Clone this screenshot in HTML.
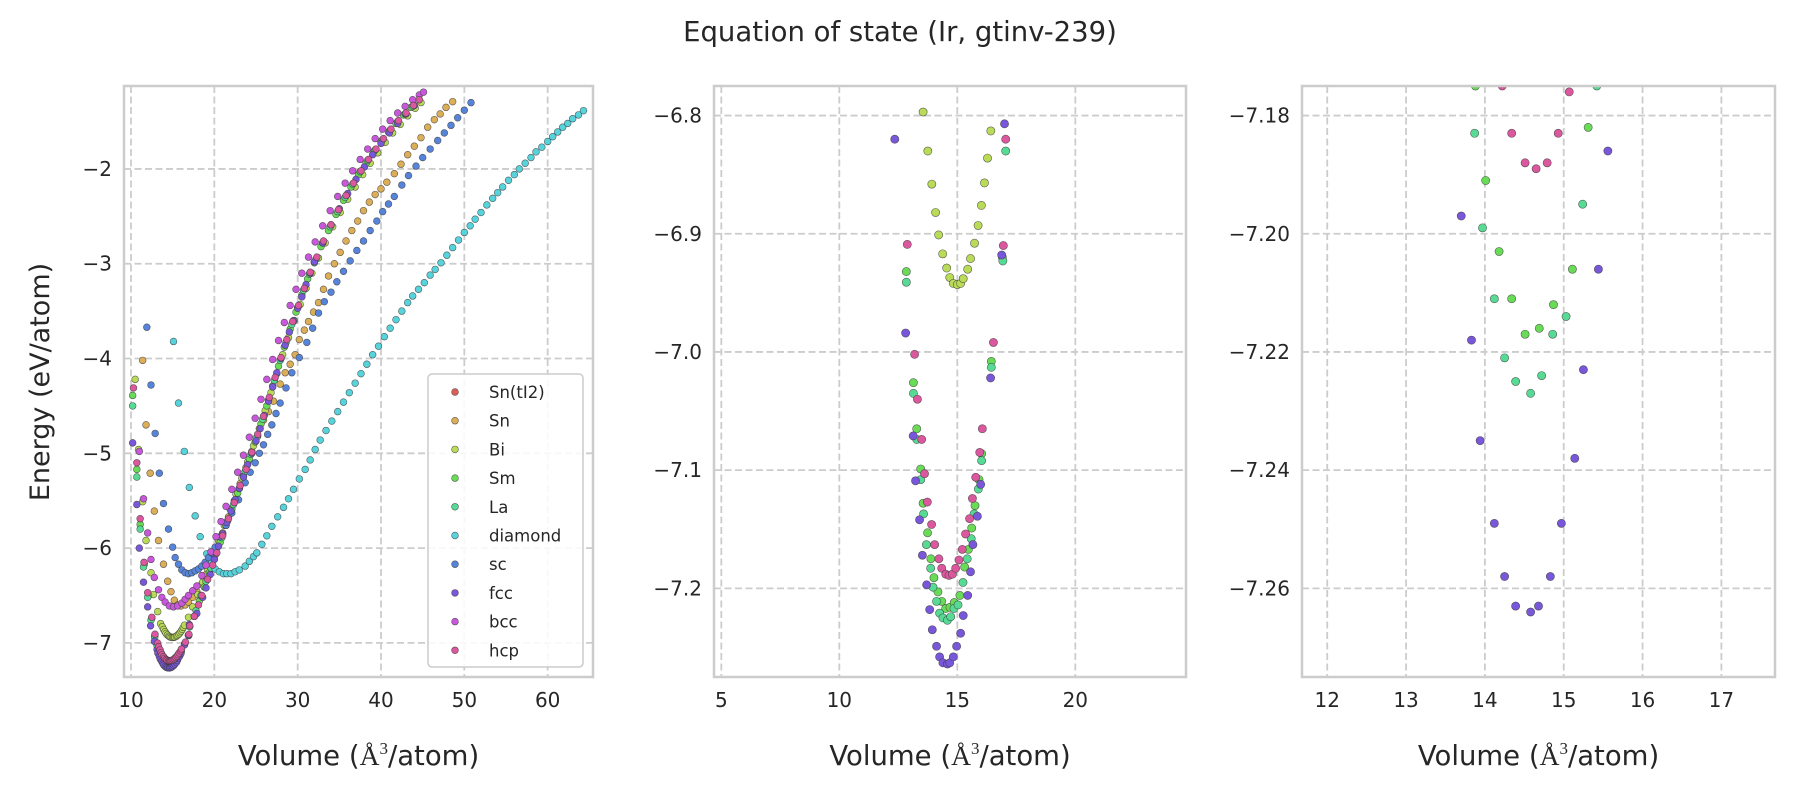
<!DOCTYPE html>
<html><head><meta charset="utf-8"><title>Equation of state (Ir, gtinv-239)</title>
<style>
html,body{margin:0;padding:0;background:#fff;}
svg{display:block;font-family:"DejaVu Sans","Liberation Sans",sans-serif;}
</style></head>
<body>
<svg id="chart" width="1800" height="800" viewBox="0 0 1800 800" xmlns="http://www.w3.org/2000/svg">
<rect width="1800" height="800" fill="#fff"/>
<text x="900" y="41" font-size="27.5" text-anchor="middle" fill="#262626">Equation of state (Ir, gtinv-239)</text>
<text transform="translate(49,382) rotate(-90)" font-size="27" text-anchor="middle" fill="#262626">Energy (eV/atom)</text>
<g id="panels"></g>
</svg>
<script>
// ---- data: series names / colours ----
const seriesNames = ["Sn(tI2)","Sn","Bi","Sm","La","diamond","sc","fcc","bcc","hcp"];
const seriesColors = ["#db5f57","#dbae57","#b9db57","#69db57","#57db94","#57d3db","#5784db","#7957db","#c957db","#db579e"];

// ---- data: [volume, energy] points per structure ----
const snTI2Pts = [];
const snPts = [[11.4,-4.02],[11.8,-4.70],[12.3,-5.21],[12.8,-5.61],[13.3,-5.92],[13.9,-6.17],[14.4,-6.35],[14.8,-6.46],[15.2,-6.55],[15.6,-6.6],[16.0,-6.61],[16.5,-6.6],[16.9,-6.57],[17.4,-6.52],[17.9,-6.46],[18.5,-6.38],[19.1,-6.27],[19.7,-6.14],[20.3,-6.0],[21,-5.84],[21.7,-5.67],[22.4,-5.5],[23.1,-5.32],[23.8,-5.15],[24.5,-4.98],[25.2,-4.82],[25.9,-4.65],[26.5,-4.56],[27.1,-4.45],[27.9,-4.27],[28.5,-4.15],[29.1,-4.06],[29.7,-3.96],[30.2,-3.8],[30.8,-3.7],[31.3,-3.61],[31.9,-3.51],[32.5,-3.41],[33.1,-3.27],[33.7,-3.13],[34.4,-3.0],[35.1,-2.88],[35.8,-2.76],[36.5,-2.65],[37.2,-2.55],[37.9,-2.44],[38.6,-2.35],[39.3,-2.27],[40.0,-2.21],[40.7,-2.14],[41.6,-2.05],[42.4,-1.95],[43.2,-1.85],[44,-1.76],[44.8,-1.67],[45.6,-1.56],[46.4,-1.48],[47.1,-1.42],[47.8,-1.35],[48.6,-1.29]];
const biPts = [[10.5,-4.22],[10.9,-4.96],[11.4,-5.51],[11.8,-5.92],[12.4,-6.26],[12.7,-6.49],[13.2,-6.67],[13.55,-6.797],[13.75,-6.830],[13.92,-6.858],[14.08,-6.882],[14.21,-6.901],[14.38,-6.917],[14.55,-6.929],[14.68,-6.937],[14.83,-6.942],[15.0,-6.943],[15.14,-6.942],[15.25,-6.938],[15.44,-6.930],[15.56,-6.921],[15.73,-6.908],[15.88,-6.893],[16.02,-6.876],[16.15,-6.857],[16.28,-6.836],[16.42,-6.813],[16.9,-6.73],[17.4,-6.62],[18,-6.49],[18.6,-6.36],[19.2,-6.22],[19.8,-6.08],[20.5,-5.92],[21.2,-5.76],[21.9,-5.59],[22.6,-5.43],[23.3,-5.26],[24,-5.09],[24.7,-4.92],[25.4,-4.74],[26.1,-4.55],[26.8,-4.36],[27.5,-4.16],[28.2,-3.96],[28.9,-3.78],[29.6,-3.6],[30.3,-3.43],[31,-3.26],[31.7,-3.1],[32.5,-2.94],[33.3,-2.78],[34.2,-2.61],[35.1,-2.46],[36,-2.32],[36.9,-2.19],[37.8,-2.06],[38.7,-1.94],[39.6,-1.83],[40.5,-1.72],[41.4,-1.62],[42.3,-1.53],[43.2,-1.44],[44.1,-1.36],[44.8,-1.3]];
const smPts = [[10.2,-4.39],[10.7,-5.17],[11.1,-5.75],[11.6,-6.17],[12.1,-6.5],[12.5,-6.74],[12.84,-6.932],[13.14,-7.026],[13.28,-7.065],[13.45,-7.099],[13.55,-7.128],[13.74,-7.153],[13.88,-7.175],[14.01,-7.191],[14.18,-7.203],[14.34,-7.211],[14.51,-7.217],[14.69,-7.216],[14.87,-7.212],[15.11,-7.206],[15.31,-7.182],[15.47,-7.167],[15.61,-7.149],[15.75,-7.130],[15.92,-7.108],[16.03,-7.086],[16.44,-7.008],[16.91,-6.920],[17.6,-6.72],[18.2,-6.56],[18.8,-6.41],[19.4,-6.26],[20,-6.11],[20.7,-5.94],[21.4,-5.76],[22.1,-5.59],[22.8,-5.42],[23.5,-5.24],[24.2,-5.06],[24.9,-4.88],[25.6,-4.69],[26.3,-4.5],[27,-4.29],[27.7,-4.08],[28.4,-3.88],[29.1,-3.69],[29.8,-3.51],[30.5,-3.33],[31.2,-3.16],[32,-2.99],[32.8,-2.82],[33.7,-2.65],[34.6,-2.48],[35.5,-2.33],[36.4,-2.19],[37.3,-2.06],[38.2,-1.94],[39.1,-1.82],[40,-1.71],[40.9,-1.61],[41.8,-1.52],[42.7,-1.43],[43.6,-1.35]];
const laPts = [[10.2,-4.5],[10.7,-5.25],[11.1,-5.8],[11.5,-6.2],[12.0,-6.52],[12.4,-6.76],[12.84,-6.941],[13.14,-7.035],[13.28,-7.074],[13.45,-7.108],[13.57,-7.137],[13.69,-7.163],[13.87,-7.183],[13.97,-7.199],[14.12,-7.211],[14.25,-7.221],[14.39,-7.225],[14.58,-7.227],[14.72,-7.224],[14.86,-7.217],[15.03,-7.214],[15.24,-7.195],[15.42,-7.175],[15.59,-7.158],[15.71,-7.137],[15.89,-7.116],[16.03,-7.092],[16.44,-7.013],[16.93,-6.923],[17.05,-6.83],[17.8,-6.66],[18.4,-6.5],[19,-6.35],[19.6,-6.21],[20.2,-6.06],[20.9,-5.89],[21.6,-5.71],[22.3,-5.54],[23,-5.37],[23.7,-5.19],[24.4,-5.01],[25.1,-4.83],[25.8,-4.64],[26.5,-4.44],[27.2,-4.23],[27.9,-4.02],[28.6,-3.83],[29.3,-3.64],[30,-3.46],[30.7,-3.28],[31.4,-3.11],[32.2,-2.95],[33,-2.78],[33.9,-2.61],[34.8,-2.45],[35.7,-2.3],[36.6,-2.16],[37.5,-2.03],[38.4,-1.91],[39.3,-1.8],[40.2,-1.69],[41.1,-1.59],[42,-1.5],[42.9,-1.42],[43.8,-1.34]];
const diamondPts = [[15.1,-3.82],[15.7,-4.47],[16.4,-4.98],[17.0,-5.36],[17.7,-5.66],[18.3,-5.88],[19.1,-6.06],[19.6,-6.15],[20.1,-6.22],[20.6,-6.25],[21.1,-6.27],[21.5,-6.27],[22.0,-6.27],[22.5,-6.25],[23.0,-6.23],[23.7,-6.19],[24.2,-6.14],[24.7,-6.09],[25.1,-6.05],[25.7,-5.96],[26.3,-5.87],[26.9,-5.77],[27.6,-5.67],[28.3,-5.57],[28.9,-5.48],[29.5,-5.38],[30.2,-5.27],[30.9,-5.17],[31.5,-5.07],[32.1,-4.96],[32.7,-4.86],[33.4,-4.76],[34.1,-4.66],[34.8,-4.56],[35.5,-4.46],[36.2,-4.36],[36.9,-4.26],[37.6,-4.16],[38.3,-4.06],[39.0,-3.96],[39.7,-3.87],[40.4,-3.77],[41.1,-3.68],[41.8,-3.59],[42.5,-3.5],[43.2,-3.41],[43.8,-3.34],[44.5,-3.27],[45.2,-3.2],[45.9,-3.12],[46.5,-3.06],[47.2,-2.99],[47.9,-2.91],[48.6,-2.83],[49.3,-2.75],[50,-2.67],[50.7,-2.6],[51.3,-2.53],[52,-2.46],[52.7,-2.38],[53.4,-2.31],[54,-2.25],[54.6,-2.19],[55.3,-2.12],[56,-2.06],[56.6,-2.0],[57.3,-1.94],[58,-1.88],[58.6,-1.82],[59.3,-1.77],[60,-1.71],[60.6,-1.66],[61.2,-1.61],[61.8,-1.56],[62.4,-1.52],[63,-1.47],[63.7,-1.43],[64.3,-1.385]];
const scPts = [[11.9,-3.67],[12.4,-4.28],[12.9,-4.79],[13.4,-5.21],[13.9,-5.53],[14.5,-5.80],[15.0,-5.99],[15.3,-6.1],[15.7,-6.17],[16.1,-6.23],[16.5,-6.26],[16.9,-6.27],[17.3,-6.26],[17.7,-6.24],[18.1,-6.22],[18.5,-6.19],[18.9,-6.15],[19.3,-6.1],[19.7,-6.05],[20.1,-5.99],[20.7,-5.88],[21.4,-5.76],[22.1,-5.63],[22.9,-5.49],[23.7,-5.31],[24.3,-5.2],[24.9,-5.10],[25.4,-5.0],[25.9,-4.91],[26.4,-4.8],[26.9,-4.70],[27.4,-4.58],[27.9,-4.47],[28.6,-4.31],[29.3,-4.15],[30.2,-3.99],[31.1,-3.83],[31.8,-3.68],[32.5,-3.52],[33.2,-3.4],[34.0,-3.3],[34.7,-3.19],[35.5,-3.08],[36.3,-2.97],[37.1,-2.86],[37.9,-2.76],[38.7,-2.65],[39.5,-2.55],[40.2,-2.45],[40.9,-2.37],[41.6,-2.29],[42.5,-2.17],[43.3,-2.07],[44.2,-1.97],[45,-1.88],[45.9,-1.79],[46.8,-1.7],[47.6,-1.62],[48.4,-1.54],[49.2,-1.46],[50,-1.38],[50.8,-1.30]];
const fccPts = [[10.2,-4.89],[10.7,-5.54],[11.0,-6.0],[11.5,-6.36],[12.0,-6.62],[12.35,-6.82],[12.81,-6.984],[13.13,-7.071],[13.23,-7.109],[13.40,-7.142],[13.52,-7.172],[13.70,-7.197],[13.83,-7.218],[13.94,-7.235],[14.12,-7.249],[14.25,-7.258],[14.39,-7.263],[14.58,-7.264],[14.68,-7.263],[14.83,-7.258],[14.97,-7.249],[15.14,-7.238],[15.25,-7.223],[15.44,-7.206],[15.56,-7.186],[15.66,-7.163],[15.85,-7.139],[15.99,-7.112],[16.41,-7.022],[16.88,-6.918],[17.0,-6.807],[17.9,-6.69],[18.6,-6.52],[19.0,-6.42],[19.5,-6.28],[20.0,-6.12],[20.5,-5.98],[21.0,-5.85],[21.5,-5.73],[22,-5.61],[22.5,-5.49],[23,-5.37],[23.5,-5.25],[24,-5.12],[24.5,-5.0],[25,-4.87],[25.5,-4.74],[26,-4.6],[26.5,-4.45],[27,-4.3],[27.5,-4.15],[28,-4.0],[28.5,-3.86],[29,-3.72],[29.5,-3.6],[30,-3.47],[30.5,-3.35],[31,-3.22],[31.5,-3.1],[32,-2.98],[33,-2.78],[34,-2.59],[35,-2.42],[36,-2.26],[37,-2.11],[38,-1.98],[39,-1.85],[40,-1.73],[41,-1.62],[42,-1.52],[43,-1.42],[44,-1.33]];
const bccPts = [[11.0,-4.98],[11.5,-5.48],[12.0,-5.84],[12.4,-6.12],[12.8,-6.31],[13.3,-6.44],[13.7,-6.52],[14.1,-6.57],[14.6,-6.61],[15.1,-6.62],[15.6,-6.61],[16.1,-6.58],[16.5,-6.54],[16.9,-6.5],[17.4,-6.45],[17.9,-6.4],[18.5,-6.29],[19.0,-6.18],[19.6,-6.04],[20.2,-5.88],[20.8,-5.72],[21.4,-5.56],[22.1,-5.38],[22.8,-5.2],[23.5,-5.02],[24.2,-4.83],[24.9,-4.63],[25.6,-4.43],[26.3,-4.22],[27,-4.01],[27.7,-3.81],[28.4,-3.62],[29.1,-3.44],[29.8,-3.27],[30.5,-3.1],[31.3,-2.93],[32.1,-2.77],[33,-2.6],[33.9,-2.44],[34.8,-2.29],[35.7,-2.15],[36.6,-2.02],[37.5,-1.9],[38.4,-1.79],[39.3,-1.68],[40.2,-1.58],[41.1,-1.49],[42,-1.41],[42.9,-1.34],[43.8,-1.27],[44.6,-1.22],[45.1,-1.19]];
const hcpPts = [[10.3,-4.31],[10.7,-5.1],[11.1,-5.69],[11.56,-6.15],[12.0,-6.47],[12.5,-6.73],[12.88,-6.909],[13.19,-7.002],[13.31,-7.040],[13.49,-7.074],[13.61,-7.103],[13.73,-7.127],[13.91,-7.146],[14.04,-7.163],[14.22,-7.175],[14.34,-7.183],[14.51,-7.188],[14.65,-7.189],[14.79,-7.188],[14.93,-7.183],[15.07,-7.176],[15.21,-7.167],[15.35,-7.154],[15.52,-7.141],[15.64,-7.124],[15.78,-7.106],[15.95,-7.085],[16.06,-7.065],[16.53,-6.992],[16.95,-6.910],[17.05,-6.82],[17.6,-6.72],[18.1,-6.6],[18.5,-6.5],[19.2,-6.33],[19.8,-6.18],[20.3,-6.05],[21,-5.87],[21.7,-5.69],[22.4,-5.52],[23.1,-5.34],[23.8,-5.17],[24.5,-4.99],[25.2,-4.8],[25.9,-4.61],[26.6,-4.41],[27.3,-4.2],[28,-3.99],[28.7,-3.8],[29.4,-3.61],[30.1,-3.44],[30.8,-3.26],[31.5,-3.09],[32.3,-2.93],[33.1,-2.76],[34,-2.59],[34.9,-2.43],[35.8,-2.28],[36.7,-2.15],[37.6,-2.02],[38.5,-1.9],[39.4,-1.79],[40.3,-1.68],[41.2,-1.58],[42.1,-1.49],[43,-1.41],[43.9,-1.33],[44.6,-1.27]];
const seriesPoints = [snTI2Pts,snPts,biPts,smPts,laPts,diamondPts,scPts,fccPts,bccPts,hcpPts];

// ---- tick values per panel ----
const p1XTicks = [10,20,30,40,50,60];
const p1YTicks = [-7,-6,-5,-4,-3,-2];
const p2XTicks = [5,10,15,20];
const p2YTicks = [-7.2,-7.1,-7.0,-6.9,-6.8];
const p3XTicks = [12,13,14,15,16,17];
const p3YTicks = [-7.26,-7.24,-7.22,-7.20,-7.18];
const p1XLim = [9.16,65.44], p1YLim = [-7.36,-1.125];
const p2XLim = [4.69,24.69], p2YLim = [-7.275,-6.775];
const p3XLim = [11.68,17.68], p3YLim = [-7.275,-7.175];

const NS = "http://www.w3.org/2000/svg";
const root = document.getElementById("panels");
function mk(tag, attrs, parent){
  const el = document.createElementNS(NS, tag);
  for (const k in attrs) el.setAttribute(k, attrs[k]);
  (parent||root).appendChild(el);
  return el;
}
function fmt(v, dec){ const s = Math.abs(v).toFixed(dec); return (v<0?"\u2212":"")+s; }

const panels = [
  {name:"panel-overview", x0:124, x1:593, xl:p1XLim, yl:p1YLim, xt:p1XTicks, yt:p1YTicks, xd:0, yd:0, r:3.4},
  {name:"panel-zoom", x0:714, x1:1186, xl:p2XLim, yl:p2YLim, xt:p2XTicks, yt:p2YTicks, xd:0, yd:1, r:4.1},
  {name:"panel-detail", x0:1302, x1:1775, xl:p3XLim, yl:p3YLim, xt:p3XTicks, yt:p3YTicks, xd:0, yd:2, r:4.1}
];
const Y0 = 86, Y1 = 677;

panels.forEach((p, pi) => {
  const g = mk("g", {});
  
  
  const sx = v => p.x0 + (v - p.xl[0]) / (p.xl[1] - p.xl[0]) * (p.x1 - p.x0);
  const sy = v => Y0 + (p.yl[1] - v) / (p.yl[1] - p.yl[0]) * (Y1 - Y0);
  p.xt.forEach(t => {
    const l = mk("line", {x1:sx(t), x2:sx(t), y1:Y0, y2:Y1, stroke:"#cccccc", "stroke-width":1.8, "stroke-dasharray":"7,3.5"}, g);
    
    
    const tx = mk("text", {x:sx(t), y:707, "font-size":20, "text-anchor":"middle", fill:"#262626"}, g);
    
    
    tx.textContent = fmt(t, p.xd);
  });
  p.yt.forEach(t => {
    const l = mk("line", {x1:p.x0, x2:p.x1, y1:sy(t), y2:sy(t), stroke:"#cccccc", "stroke-width":1.8, "stroke-dasharray":"7,3.5"}, g);
    
    
    const tx = mk("text", {x:p.x0 - 12, y:sy(t) + 7, "font-size":20, "text-anchor":"end", fill:"#262626"}, g);
    
    
    tx.textContent = fmt(t, p.yd);
  });
  const cp = mk("clipPath", {id:"clip"+pi}, g);
  mk("rect", {x:p.x0, y:Y0, width:p.x1-p.x0, height:Y1-Y0}, cp);
  const marks = mk("g", {"clip-path":"url(#clip"+pi+")"}, g);
  
  
  seriesPoints.forEach((pts, si) => {
    pts.forEach(pt => {
      const c = mk("circle", {cx:sx(pt[0]).toFixed(2), cy:sy(pt[1]).toFixed(2), r:p.r, fill:seriesColors[si], stroke:"#3a3a3a", "stroke-width":0.6, "stroke-opacity":0.8}, marks);
      
      
    });
  });
  const fr = mk("rect", {x:p.x0, y:Y0, width:p.x1-p.x0, height:Y1-Y0, fill:"none", stroke:"#cccccc", "stroke-width":2.5}, g);
  
  
  const xl = mk("text", {x:(p.x0+p.x1)/2, y:765, "font-size":27.5, "text-anchor":"middle", fill:"#262626"}, g);
  
  
  xl.innerHTML = 'Volume (<tspan font-family="Liberation Serif, serif">Å</tspan><tspan font-family="Liberation Serif, serif" font-size="17" dy="-11">3</tspan><tspan dy="11">/atom)</tspan>';
});

const lg = mk("g", {});


const lb = mk("rect", {x:428, y:374, width:155, height:293, rx:4, fill:"#ffffff", "fill-opacity":0.85, stroke:"#cccccc", "stroke-width":1.5}, lg);


seriesNames.forEach((nm, i) => {
  const y = 392 + i * 28.7;
  const e = mk("g", {}, lg);
  
  
  const c = mk("circle", {cx:455, cy:y, r:3.4, fill:seriesColors[i], stroke:"#3a3a3a", "stroke-width":0.6, "stroke-opacity":0.8}, e);
  
  
  const t = mk("text", {x:489, y:y + 6, "font-size":16.5, fill:"#262626"}, e);
  
  
  t.textContent = nm;
});
</script>
</body></html>
